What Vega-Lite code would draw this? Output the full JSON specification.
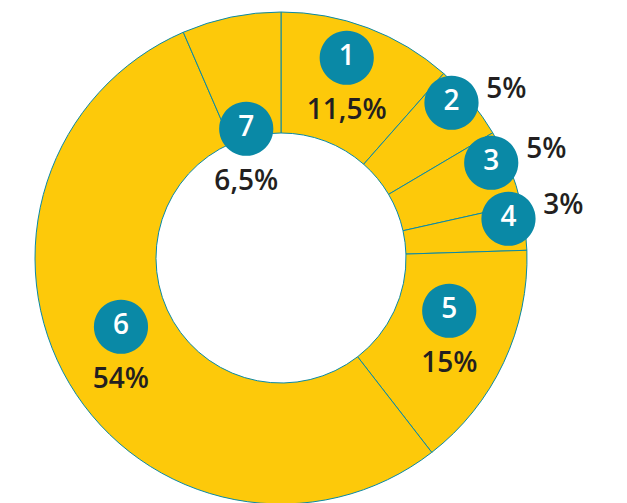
{
  "$schema": "https://vega.github.io/schema/vega-lite/v6.json",
  "width": 562,
  "height": 490,
  "autosize": {"type": "none"},
  "padding": {"left": 0, "top": 13, "right": 65, "bottom": 0},
  "background": "white",
  "config": {"view": {"stroke": null}},
  "data": {"values": [
    {"id": 1, "share": 11.5, "label": "11,5%"},
    {"id": 2, "share": 5, "label": "5%"},
    {"id": 3, "share": 5, "label": "5%"},
    {"id": 4, "share": 3, "label": "3%"},
    {"id": 5, "share": 15, "label": "15%"},
    {"id": 6, "share": 54, "label": "54%"},
    {"id": 7, "share": 6.5, "label": "6,5%"}
  ]},
  "encoding": {
    "theta": {"field": "share", "type": "quantitative", "stack": true},
    "order": {"field": "id", "type": "quantitative"}
  },
  "layer": [
    {"mark": {"type": "arc", "outerRadius": 246, "innerRadius": 125, "fill": "#FDC90A", "stroke": "#0A89A6", "strokeWidth": 1}},
    {"mark": {"type": "text", "radius": 186, "dy": -29, "font": "DejaVu Sans", "fontSize": 71, "fill": "#0A89A6", "baseline": "middle", "align": "center"},
     "encoding": {"text": {"condition": {"test": "datum.id == 1 || datum.id == 5 || datum.id == 6", "value": "●"}, "value": ""}}},
    {"mark": {"type": "text", "radius": 186, "dy": -27, "font": "Open Sans", "fontWeight": 600, "fontSize": 28, "fill": "white", "baseline": "middle", "align": "center"},
     "encoding": {"text": {"condition": {"test": "datum.id == 1 || datum.id == 5 || datum.id == 6", "field": "id", "type": "nominal"}, "value": ""}}},
    {"mark": {"type": "text", "radius": 186, "dy": 27, "font": "Open Sans", "fontWeight": 600, "fontSize": 28, "fill": "#231F20", "baseline": "middle", "align": "center"},
     "encoding": {"text": {"condition": {"test": "datum.id == 1 || datum.id == 5 || datum.id == 6", "field": "label", "type": "nominal"}, "value": ""}}},
    {"mark": {"type": "text", "radius": 109, "thetaOffset": -0.12, "dy": -29, "font": "DejaVu Sans", "fontSize": 71, "fill": "#0A89A6", "baseline": "middle", "align": "center"},
     "encoding": {"text": {"condition": {"test": "datum.id == 7", "value": "●"}, "value": ""}}},
    {"mark": {"type": "text", "radius": 109, "thetaOffset": -0.12, "dy": -27, "font": "Open Sans", "fontWeight": 600, "fontSize": 28, "fill": "white", "baseline": "middle", "align": "center"},
     "encoding": {"text": {"condition": {"test": "datum.id == 7", "field": "id", "type": "nominal"}, "value": ""}}},
    {"mark": {"type": "text", "radius": 109, "thetaOffset": -0.12, "dy": 27, "font": "Open Sans", "fontWeight": 600, "fontSize": 28, "fill": "#231F20", "baseline": "middle", "align": "center"},
     "encoding": {"text": {"condition": {"test": "datum.id == 7", "field": "label", "type": "nominal"}, "value": ""}}},
    {"mark": {"type": "text", "radius": 231, "thetaOffset": -0.05, "dy": -2, "font": "DejaVu Sans", "fontSize": 71, "fill": "#0A89A6", "baseline": "middle", "align": "center"},
     "encoding": {"text": {"condition": {"test": "datum.id >= 2 && datum.id <= 4", "value": "●"}, "value": ""}}},
    {"mark": {"type": "text", "radius": 231, "thetaOffset": -0.05, "font": "Open Sans", "fontWeight": 600, "fontSize": 28, "fill": "white", "baseline": "middle", "align": "center"},
     "encoding": {"text": {"condition": {"test": "datum.id >= 2 && datum.id <= 4", "field": "id", "type": "nominal"}, "value": ""}}},
    {"mark": {"type": "text", "radius": 231, "thetaOffset": -0.05, "dx": 55, "dy": -12, "font": "Open Sans", "fontWeight": 600, "fontSize": 28, "fill": "#231F20", "baseline": "middle", "align": "center"},
     "encoding": {"text": {"condition": {"test": "datum.id >= 2 && datum.id <= 4", "field": "label", "type": "nominal"}, "value": ""}}}
  ]
}
